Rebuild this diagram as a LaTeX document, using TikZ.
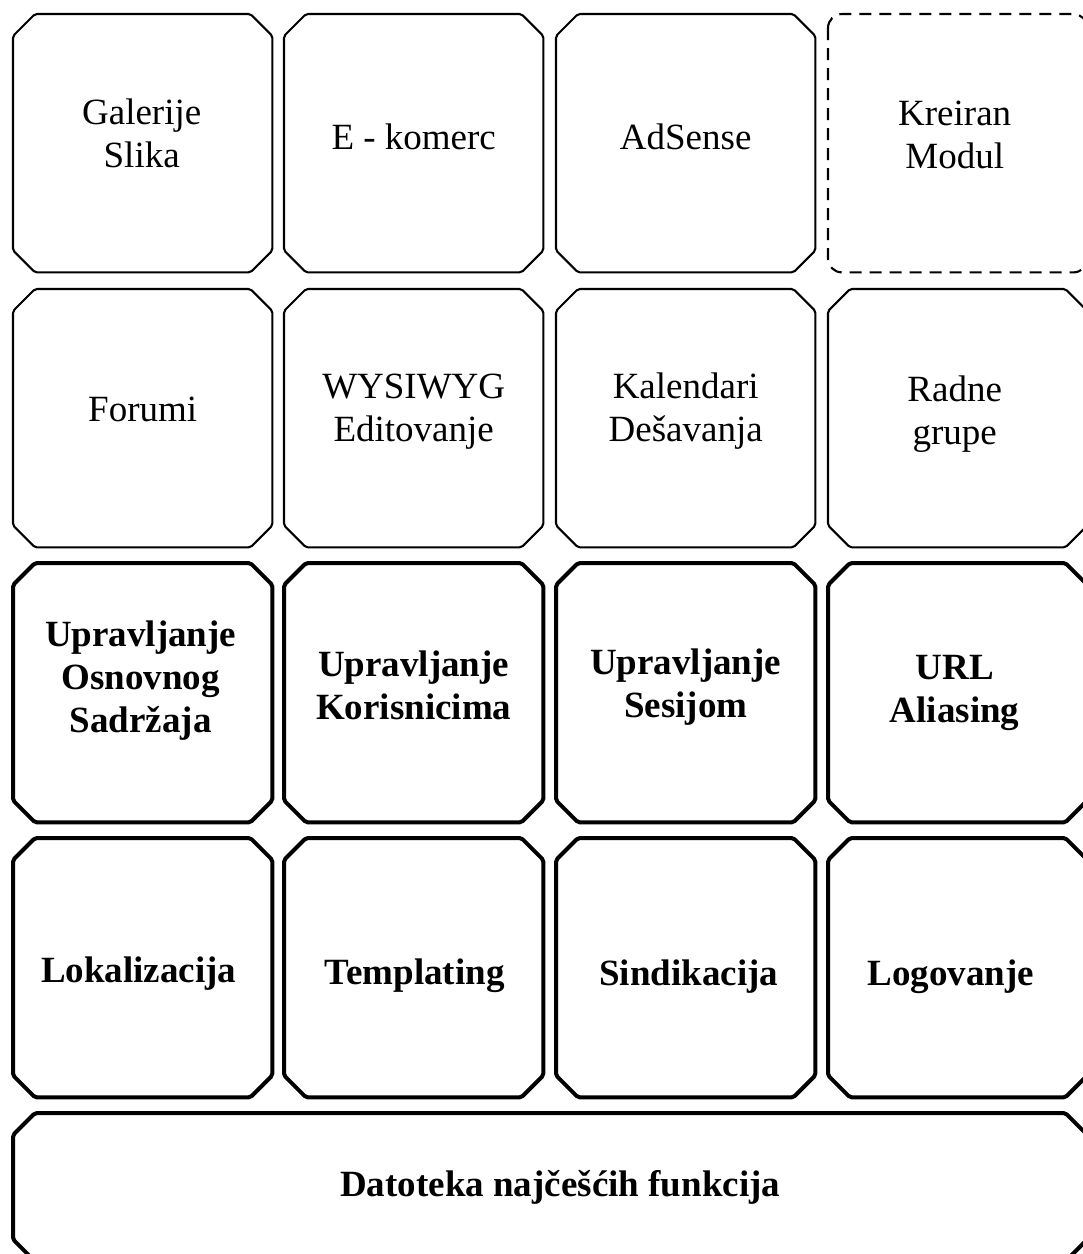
\documentclass[tikz,border=0pt]{standalone}
\usepackage{fontspec}
\setmainfont{Liberation Serif}
\usetikzlibrary{calc}
\tikzset{
  x=1pt,y=1pt,
  boxarea/.style={draw=none,inner sep=0pt,minimum width=#1,minimum height=259pt,anchor=north west},
  boxarea/.default=259pt,
  lbl/.style={align=center,font=\fontsize{37}{43}\selectfont,inner sep=0pt},
  blbl/.style={lbl,font=\fontsize{37}{43}\selectfont\bfseries},
  thinline/.style={line width=2.1pt,rounded corners=2pt,line join=round},
  thickline/.style={line width=4pt,rounded corners=2pt,line join=round},
  dashline/.style={line width=2.1pt,dash pattern=on 12pt off 8pt,rounded corners=14pt}
}
\newcommand\chamf[2]{%
  \draw[#2] ($(#1.north west)+(22,0)$) -- ($(#1.north east)+(-22,0)$) --
    ($(#1.north east)+(0,-22)$) -- ($(#1.south east)+(0,22)$) --
    ($(#1.south east)+(-22,0)$) -- ($(#1.south west)+(22,0)$) --
    ($(#1.south west)+(0,22)$) -- ($(#1.north west)+(0,-22)$) -- cycle;}
\begin{document}
\begin{tikzpicture}
\useasboundingbox (0,0) rectangle (1083,-1254);
% boxes: columns at x = 13, 284, 556, 828 ; rows at y = 14, 289, 563, 838
\node[boxarea,minimum height=258pt] (b11) at (13,-14) {};
\node[boxarea,minimum height=258pt] (b12) at (284,-14) {};
\node[boxarea,minimum height=258pt] (b13) at (556,-14) {};
\node[boxarea,minimum height=258pt] (b14) at (828,-14) {};
\node[boxarea,minimum height=258pt] (b21) at (13,-289) {};
\node[boxarea,minimum height=258pt] (b22) at (284,-289) {};
\node[boxarea,minimum height=258pt] (b23) at (556,-289) {};
\node[boxarea,minimum height=258pt] (b24) at (828,-289) {};
\node[boxarea] (b31) at (13,-563) {};
\node[boxarea] (b32) at (284,-563) {};
\node[boxarea] (b33) at (556,-563) {};
\node[boxarea] (b34) at (828,-563) {};
\node[boxarea] (b41) at (13,-838) {};
\node[boxarea] (b42) at (284,-838) {};
\node[boxarea] (b43) at (556,-838) {};
\node[boxarea] (b44) at (828,-838) {};
\node[boxarea=1074pt,minimum height=148pt] (b5) at (13,-1113) {};

\chamf{b11}{thinline}
\chamf{b12}{thinline}
\chamf{b13}{thinline}
\draw[dashline] (b14.north west) rectangle (b14.south east);
\chamf{b21}{thinline}
\chamf{b22}{thinline}
\chamf{b23}{thinline}
\chamf{b24}{thinline}
\chamf{b31}{thickline}
\chamf{b32}{thickline}
\chamf{b33}{thickline}
\chamf{b34}{thickline}
\chamf{b41}{thickline}
\chamf{b42}{thickline}
\chamf{b43}{thickline}
\chamf{b44}{thickline}
\chamf{b5}{thickline}

% labels
\node[lbl] (t11) at ($(b11.center)+(-1,10)$) {Galerije\\Slika};
\node[lbl] (t12) at ($(b12.center)+(0,6)$) {E - komerc};
\node[lbl] (t13) at ($(b13.center)+(0,6)$) {AdSense};
\node[lbl] (t14) at ($(b14.center)+(-3,8)$) {Kreiran\\Modul};
\node[lbl] (t21) at ($(b21.center)+(0,9)$) {Forumi};
\node[lbl] (t22) at ($(b22.center)+(0,7)$) {WYSIWYG\\Editovanje};
\node[lbl] (t23) at ($(b23.center)+(0,7)$) {Kalendari\\Dešavanja};
\node[lbl] (t24) at ($(b24.center)+(-3,4)$) {Radne\\grupe};
\node[blbl] (t31) at ($(b31.center)+(-2,12)$) {Upravljanje\\Osnovnog\\Sadržaja};
\node[blbl] (t32) at ($(b32.center)+(0,7)$) {Upravljanje\\Korisnicima};
\node[blbl] (t33) at ($(b33.center)+(0,6)$) {Upravljanje\\Sesijom};
\node[blbl] (t34) at ($(b34.center)+(-3,0)$) {URL\\Aliasing};
\node[blbl] (t41) at ($(b41.center)+(-4,-6)$) {Lokalizacija};
\node[blbl] (t42) at ($(b42.center)+(1,-8)$) {Templating};
\node[blbl] (t43) at ($(b43.center)+(3,-9)$) {Sindikacija};
\node[blbl] (t44) at ($(b44.center)+(-7,-9)$) {Logovanje};
\node[blbl] (t5) at ($(b5.center)+(10,0)$) {Datoteka najčešćih funkcija};
\end{tikzpicture}
\end{document}
